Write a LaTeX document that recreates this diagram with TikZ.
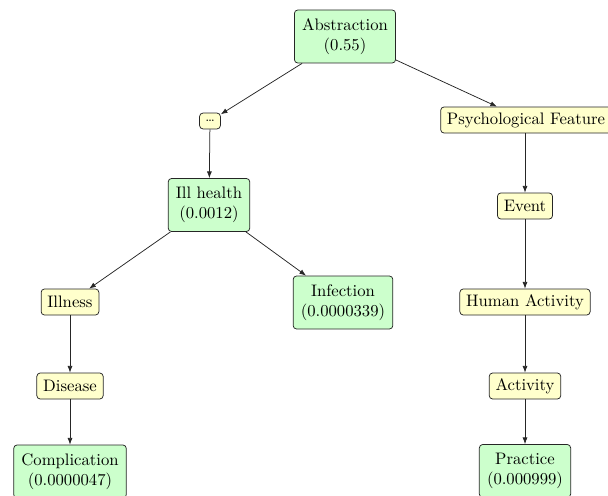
\documentclass[tikz,border=0pt]{standalone}
\usetikzlibrary{arrows.meta}
\definecolor{leafgreen}{HTML}{CCFFCC}
\definecolor{inneryellow}{HTML}{FFFFCC}
\begin{document}
\begin{tikzpicture}[x=0.6pt,y=-0.6pt,
  base/.style={draw=black!85,rounded corners=2pt,align=center,font=\normalsize,line width=0.45pt},
  leaf/.style={base,fill=leafgreen,inner xsep=4.6pt,inner ysep=3pt,minimum height=31.8pt},
  inner/.style={base,fill=inneryellow,inner xsep=3.8pt,inner ysep=3pt,minimum height=15.6pt},
  dotsbox/.style={base,fill=inneryellow,inner xsep=3.4pt,inner ysep=4.3pt,font=\footnotesize},
  link/.style={draw=black!85,line width=0.45pt,-{Latex[length=4pt,width=3pt]}}]
\useasboundingbox (0,0) rectangle (608,496);
\clip (0,0) rectangle (608,496);
\node[leaf] (abs) at (345,36.5) {Abstraction\\(0.55)};
\node[dotsbox] (dots) at (210,121) {\ldots};
\node[inner] (psy) at (526,120) {Psychological Feature};
\node[leaf] (ill) at (209,205) {Ill health\\(0.0012)};
\node[inner] (evt) at (525,206) {Event};
\node[inner] (illness) at (70,302) {Illness};
\node[leaf] (inf) at (343,302.5) {Infection\\(0.0000339)};
\node[inner] (hum) at (525,302) {Human Activity};
\node[inner] (dis) at (70,386) {Disease};
\node[inner] (act) at (525,386) {Activity};
\node[leaf] (comp) at (70,471.5) {Complication\\(0.0000047)};
\node[leaf] (prac) at (525,471) {Practice\\(0.000999)};
\draw[link] (abs) -- (dots);
\draw[link] (abs) -- (psy);
\draw[link] (dots) -- (ill);
\draw[link] (ill) -- (illness);
\draw[link] (ill) -- (inf);
\draw[link] (illness) -- (dis);
\draw[link] (dis) -- (comp);
\draw[link] (psy.south -| evt) -- (evt);
\draw[link] (evt) -- (hum);
\draw[link] (hum) -- (act);
\draw[link] (act) -- (prac);
\end{tikzpicture}
\end{document}
